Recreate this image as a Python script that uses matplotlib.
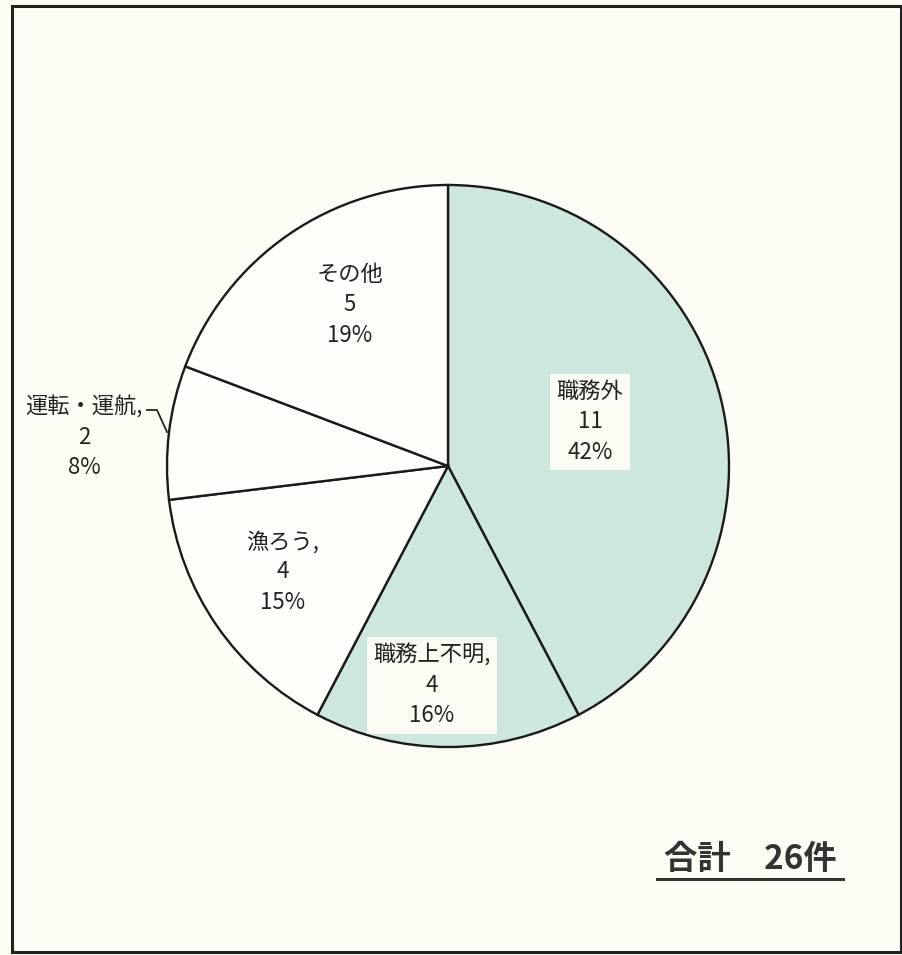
import matplotlib
matplotlib.use("Agg")
import matplotlib.pyplot as plt
from matplotlib.patches import Rectangle
from matplotlib.lines import Line2D

plt.rcParams['font.family'] = ['Noto Sans CJK JP', 'DejaVu Sans']

categories = ["職務外", "職務上不明", "漁ろう", "運転・運航", "その他"]
counts = [11, 4, 4, 2, 5]
pct_labels = ["42%", "16%", "15%", "8%", "19%"]
name_suffix = ["", ",", ",", ",", ""]
total_label = "合計　26件"

GREEN = "#cde7de"
WHITE = "#fefefa"
BG = "#fdfdf5"
slice_colors = [GREEN, GREEN, WHITE, WHITE, WHITE]

W, H = 903, 955
fig = plt.figure(figsize=(W / 100, H / 100), dpi=100, facecolor=BG)

# frame
frame_ax = fig.add_axes([0, 0, 1, 1])
frame_ax.set_xlim(0, W)
frame_ax.set_ylim(H, 0)
frame_ax.axis("off")
frame_ax.add_patch(Rectangle((12, 6), 889, 946, fill=False, edgecolor="#222222", linewidth=2.2))

# pie axes
cx, cy, r = 448, 466, 281
ax = fig.add_axes([(cx - r) / W, (H - cy - r) / H, 2 * r / W, 2 * r / H])
ax.set_facecolor("none")
wedges, _ = ax.pie(counts, colors=slice_colors, startangle=90, counterclock=False,
                   wedgeprops=dict(edgecolor="#1a1a1a", linewidth=1.7))
ax.set_xlim(-1, 1)
ax.set_ylim(-1, 1)
ax.set_aspect("equal")

label_pos = [(0.505, 0.157), (-0.057, -0.78), (-0.587, -0.377), (-1.295, 0.103), (-0.349, 0.573)]
boxed = [True, True, False, False, False]
for cat, n, p, suf, pos, bx in zip(categories, counts, pct_labels, name_suffix, label_pos, boxed):
    txt = f"{cat}{suf}\n{n}\n{p}"
    kw = {}
    if bx:
        kw["bbox"] = dict(boxstyle="square,pad=0.3", facecolor="#fbfbf4", edgecolor="none")
    ax.text(pos[0], pos[1], txt, ha="center", va="center", fontsize=16,
            linespacing=1.4, color="#222222", clip_on=False, **kw)

# leader line for 運転・運航
frame_ax.add_line(Line2D([147, 157, 167], [410, 410, 432], color="#222222", linewidth=1.3))

# total
frame_ax.text(750, 859, total_label, ha="center", va="center", fontsize=24,
              fontweight="bold", color="#333333")
frame_ax.add_line(Line2D([657, 843], [879, 879], color="#333333", linewidth=2.2))

fig.savefig("out.png", dpi=100, facecolor=BG)
